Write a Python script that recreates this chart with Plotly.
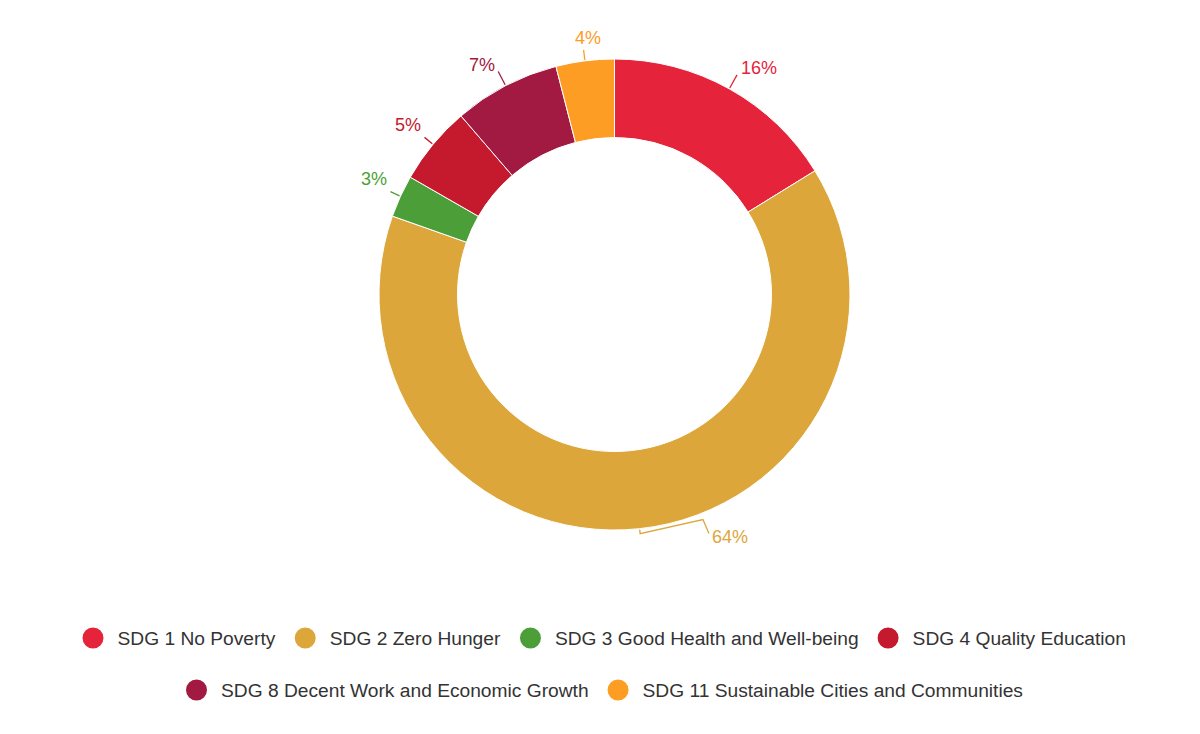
import math
import plotly.graph_objects as go

categories = [
    "SDG 1 No Poverty",
    "SDG 2 Zero Hunger",
    "SDG 3 Good Health and Well-being",
    "SDG 4 Quality Education",
    "SDG 8 Decent Work and Economic Growth",
    "SDG 11 Sustainable Cities and Communities",
]
values = [16.2, 64.2, 2.9, 5.4, 7.3, 4.0]
colors = ["#E5243B", "#DDA63A", "#4C9F38", "#C5192D", "#A21942", "#FD9D24"]

W, H = 1200, 734
CX, CY, R = 614.5, 294.5, 235.5
HOLE = 157 / 235.5
FONT = "Liberation Sans, Arial, sans-serif"
# label placement tweaks (pixels) per slice index
ELBOW_LABELS = {1: (68, -14)}          # shifted label with crooked connector
LABEL_SHIFT = {2: (6, -5), 3: (5, -3), 5: (5, 8)}  # small label shifts


def px(x):
    return x / W


def py(y):
    return 1 - y / H


fig = go.Figure()
fig.add_trace(go.Pie(
    labels=categories,
    values=values,
    marker=dict(colors=colors, line=dict(color="white", width=1)),
    hole=HOLE,
    sort=False,
    direction="clockwise",
    rotation=0,
    textinfo="none",
    showlegend=False,
    domain=dict(x=[px(CX - R), px(CX + R)], y=[py(CY + R), py(CY - R)]),
    hovertemplate="%{label}: %{percent}<extra></extra>",
))

# Legend entries (circle markers)
for i, (name, col) in enumerate(zip(categories, colors)):
    fig.add_trace(go.Scatter(
        x=[None], y=[None], mode="markers", name=name,
        marker=dict(color=col, size=16, symbol="circle",
                    line=dict(color=col, width=5)),
        legend="legend" if i < 4 else "legend2",
        showlegend=True,
    ))

# Outside percentage labels with leader lines, computed from the data
total = sum(values)
cum = 0.0
shapes = []
annotations = []
for i, (v, col) in enumerate(zip(values, colors)):
    mid = (cum + v / 2) / total
    cum += v
    a = 2 * math.pi * mid
    s, c = math.sin(a), math.cos(a)
    x1, y1 = CX + (R + 1) * s, CY - (R + 1) * c
    x2, y2 = CX + (R + 16) * s, CY - (R + 16) * c
    xl, yl = CX + (R + 19) * s, CY - (R + 19) * c
    if s > 0.15:
        xa, ya = "left", "middle"
    elif s < -0.15:
        xa, ya = "right", "middle"
    else:
        xa = "center"
        ya = "bottom" if c > 0 else "top"
    if i in ELBOW_LABELS:
        dx, dy = ELBOW_LABELS[i]
        xa, ya = "left", "middle"
        xl, yl = CX + (R + 22) * s + dx, CY - (R + 22) * c + dy
        x2, y2 = CX + (R + 5) * s, CY - (R + 5) * c
        path = (f"M {px(x1)} {py(y1)} L {px(x2)} {py(y2)} "
                f"L {px(xl - 7)} {py(yl - 17)} L {px(xl - 1)} {py(yl - 3)}")
        shapes.append(dict(type="path", xref="paper", yref="paper", path=path,
                           line=dict(color=col, width=1.3)))
    else:
        if i in LABEL_SHIFT:
            dx, dy = LABEL_SHIFT[i]
            xl, yl = xl + dx, yl + dy
            x2, y2 = CX + (R + 11) * s, CY - (R + 11) * c
        shapes.append(dict(type="line", xref="paper", yref="paper",
                           x0=px(x1), y0=py(y1), x1=px(x2), y1=py(y2),
                           line=dict(color=col, width=1.3)))
        if ya == "middle":
            yl -= 4
    annotations.append(dict(
        x=px(xl), y=py(yl), xref="paper", yref="paper",
        text=f"{round(v / total * 100)}%", showarrow=False,
        xanchor=xa, yanchor=ya,
        font=dict(size=18, color=col, family=FONT),
    ))

legend_common = dict(
    orientation="h", x=0.5, xanchor="center", yanchor="middle",
    font=dict(size=19.2, color="#333333", family=FONT),
    bgcolor="rgba(0,0,0,0)", itemsizing="trace", itemwidth=39,
)

fig.update_layout(
    width=W, height=H,
    margin=dict(l=0, r=0, t=0, b=0),
    paper_bgcolor="white", plot_bgcolor="white",
    xaxis=dict(visible=False), yaxis=dict(visible=False),
    shapes=shapes,
    annotations=annotations,
    legend=dict(y=py(638), **legend_common),
    legend2=dict(y=py(690), **legend_common),
)

fig.write_html("out.html")
